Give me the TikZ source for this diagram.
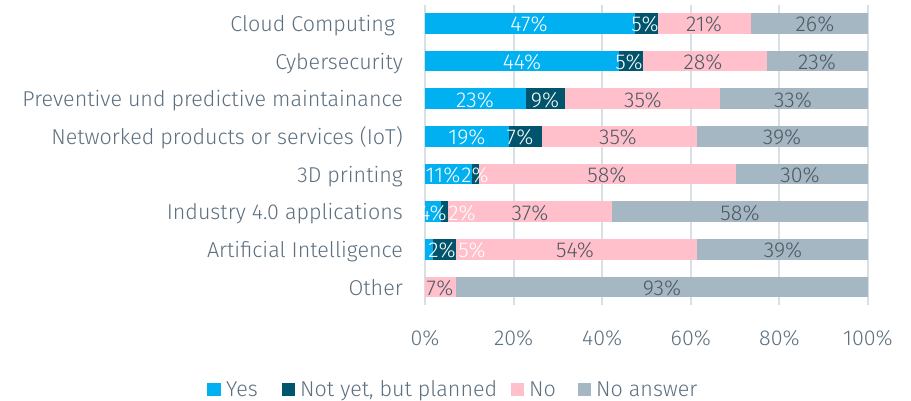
\documentclass[tikz,border=0pt]{standalone}
\usepackage{fontspec}
\setmainfont{Fira Sans Light}
\definecolor{cyes}{HTML}{00B0F0}
\definecolor{cplan}{HTML}{00546B}
\definecolor{cno}{HTML}{FFC0CB}
\definecolor{cna}{HTML}{A5B7C2}
\definecolor{ctxt}{HTML}{5C7080}
\definecolor{cdark}{HTML}{4D5A63}
\definecolor{cgrid}{HTML}{D8E0E6}
\newcommand\fs{\fontsize{21.5}{21.5}\selectfont}
\tikzset{
  cat/.style={anchor=base east, text=ctxt, font=\fs, inner sep=0pt},
  wl/.style={anchor=base, text=white, font=\fs, inner sep=0pt},
  dl/.style={anchor=base, text=cdark, font=\fs, inner sep=0pt},
  tick/.style={anchor=base, text=ctxt, font=\fs, inner sep=0pt},
  leg/.style={anchor=base west, text=ctxt, font=\fs, inner sep=0pt},
  grid/.style={draw=cgrid, line width=2pt},
}
% row: #1 name, #2 y, #3 e1, #4 e2, #5 e3 (cumulative percent)
\newcommand\barrow[5]{%
  \fill[cyes] (425,#2-10.3) rectangle (425+4.43*#3,#2+10.3);
  \fill[cplan] (425+4.43*#3,#2-10.3) rectangle (425+4.43*#4,#2+10.3);
  \fill[cno] (425+4.43*#4,#2-10.3) rectangle (425+4.43*#5,#2+10.3);
  \fill[cna] (425+4.43*#5,#2-10.3) rectangle (868,#2+10.3);
  \coordinate (#1) at (425,#2);
}
\begin{document}
\begin{tikzpicture}[x=1pt,y=-1pt]
\useasboundingbox[fill=white] (0,0) rectangle (911,401);
% grid
\foreach \i in {0,1,2,3,4,5}{
  \draw[grid] (425+88.6*\i,5) -- (425+88.6*\i,305);
  \node[tick] (t\i) at (425+88.6*\i,345) {\pgfmathparse{int(20*\i)}\pgfmathresult\%};
}
% bars
\barrow{r1}{23.5}{47.4}{52.5}{73.7}
\barrow{r2}{61.1}{43.8}{49.1}{77.2}
\barrow{r3}{98.8}{22.8}{31.6}{66.6}
\barrow{r4}{136.4}{19.0}{26.4}{61.4}
\barrow{r5}{174.1}{10.5}{12.3}{70.2}
\barrow{r6}{211.7}{3.5}{5.1}{42.3}
\barrow{r7}{249.3}{1.7}{6.9}{61.4}
\barrow{r8}{287}{0}{0}{6.9}
% categories (baseline = row + 8)
\node[cat] (c1) at (395,31.5) {Cloud Computing};
\node[cat] (c2) at (403,69.1) {Cybersecurity};
\node[cat] (c3) at (403,106.8) {Preventive und predictive maintainance};
\node[cat] (c4) at (403,144.4) {Networked products or services (IoT)};
\node[cat] (c5) at (403,182.1) {3D printing};
\node[cat] (c6) at (403,219.7) {Industry 4.0 applications};
\node[cat] (c7) at (403,257.3) {Artificial Intelligence};
\node[cat] (c8) at (403,295) {Other};
% value labels (baseline = row + 8.5)
\node[wl] (v11) at (529,32) {47\%};
\node[wl] (v12) at (645,32) {5\%};
\node[dl] (v13) at (704,32) {21\%};
\node[dl] (v14) at (815,32) {26\%};
\node[wl] (v21) at (522,69.6) {44\%};
\node[wl] (v22) at (629,69.6) {5\%};
\node[dl] (v23) at (703,69.6) {28\%};
\node[dl] (v24) at (817,69.6) {23\%};
\node[wl] (v31) at (475,107.3) {23\%};
\node[wl] (v32) at (545,107.3) {9\%};
\node[dl] (v33) at (643,107.3) {35\%};
\node[dl] (v34) at (793,107.3) {33\%};
\node[wl] (v41) at (467,144.9) {19\%};
\node[wl] (v42) at (520,144.9) {7\%};
\node[dl] (v43) at (618,144.9) {35\%};
\node[dl] (v44) at (782,144.9) {39\%};
\node[wl] (v51) at (443,182.6) {11\%};
\node[wl] (v52) at (475,182.6) {2\%};
\node[dl] (v53) at (607,182.6) {58\%};
\node[dl] (v54) at (800,182.6) {30\%};
\node[wl] (v61) at (433,220.2) {4\%};
\node[wl] (v62) at (462,220.2) {2\%};
\node[dl] (v63) at (530,220.2) {37\%};
\node[dl] (v64) at (740,220.2) {58\%};
\node[wl] (v71) at (442,257.8) {2\%};
\node[wl] (v72) at (472,257.8) {5\%};
\node[dl] (v73) at (575,257.8) {54\%};
\node[dl] (v74) at (783,257.8) {39\%};
\node[dl] (v81) at (440,295.5) {7\%};
\node[dl] (v82) at (662,295.5) {93\%};
% legend
\fill[cyes] (207,383) rectangle (221,396);
\node[leg] (l1) at (226,396) {Yes};
\fill[cplan] (282,383) rectangle (295,396);
\node[leg] (l2) at (300,396) {Not yet, but planned};
\fill[cno] (511,383) rectangle (524,396);
\node[leg] (l3) at (529,396) {No};
\fill[cna] (578,383) rectangle (591,396);
\node[leg] (l4) at (596,396) {No answer};
\end{tikzpicture}
\end{document}
